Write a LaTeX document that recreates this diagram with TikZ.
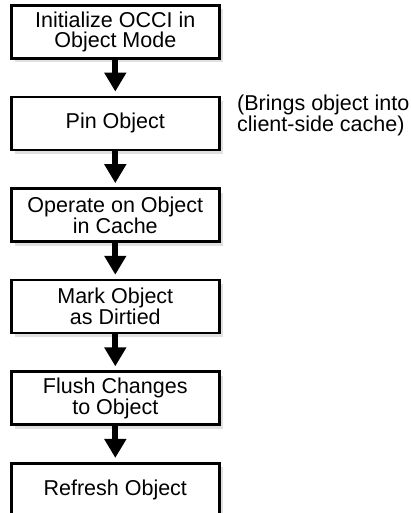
\documentclass[tikz,border=0pt]{standalone}
\usepackage{fontspec}
\setmainfont{Liberation Sans}
\usetikzlibrary{arrows.meta,shadows}
\begin{document}
\begin{tikzpicture}[x=1pt,y=-1pt,
  stepbox/.style={draw=black, line width=2.7pt, fill=white, minimum width=208pt, minimum height=53pt, inner sep=0pt, align=center, font=\fontsize{21.5}{20}\selectfont, drop shadow={shadow xshift=4pt, shadow yshift=-4pt, fill=black!12, opacity=1}},
  flow/.style={line width=6pt, -{Triangle[width=21pt,length=19pt]}, shorten >=4pt},
  note/.style={align=left, inner sep=0pt, anchor=north west, font=\fontsize{21.5}{20}\selectfont}]
\useasboundingbox (0,0) rectangle (410,513);
\node[stepbox] (s1) at (115.3,31.8) {Initialize OCCI in\\Object Mode};
\node[stepbox] (s2) at (115.3,123.4) {Pin Object};
\node[stepbox] (s3) at (115.3,215.0) {Operate on Object\\in Cache};
\node[stepbox] (s4) at (115.3,306.6) {Mark Object\\as Dirtied};
\node[stepbox] (s5) at (115.3,398.2) {Flush Changes\\to Object};
\node[stepbox] (s6) at (115.3,489.8) {Refresh Object};
\node[note] (n1) at (237,94.3) {(Brings object into\\client-side cache)};
\draw[flow] (s1) -- (s2);
\draw[flow] (s2) -- (s3);
\draw[flow] (s3) -- (s4);
\draw[flow] (s4) -- (s5);
\draw[flow] (s5) -- (s6);
\end{tikzpicture}
\end{document}
